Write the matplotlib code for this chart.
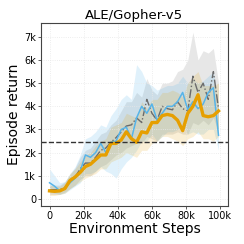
import numpy as np
import matplotlib.pyplot as plt
from matplotlib.ticker import FuncFormatter

# environment steps (k)
steps = [0, 3, 6, 9, 12, 15, 18, 21, 24, 27, 30, 33, 36, 39, 42, 45, 48,
         51, 54, 57, 60, 63, 66, 69, 72, 75, 78, 81, 84, 87, 90, 93, 96, 99]

# episode returns (k)
orange_mean = [0.35, 0.33, 0.35, 0.45, 0.8, 0.95, 1.15, 1.4, 1.5, 1.7, 1.9, 1.9,
               2.4, 2.4, 2.55, 2.9, 2.6, 2.45, 2.9, 2.85, 3.3, 3.3, 3.6, 3.65,
               3.6, 3.4, 2.95, 3.7, 4.0, 4.5, 3.6, 3.55, 3.6, 3.8]
orange_low = [0.15, 0.15, 0.2, 0.25, 0.45, 0.6, 0.75, 0.9, 1.0, 1.1, 1.3, 1.3,
              1.6, 1.7, 1.8, 2.0, 1.9, 1.8, 2.1, 2.1, 2.4, 2.5, 2.7, 2.7,
              2.6, 2.5, 2.3, 2.6, 2.7, 2.9, 2.6, 2.6, 2.5, 2.7]
orange_high = [0.6, 0.55, 0.55, 0.7, 1.1, 1.3, 1.6, 1.9, 2.0, 2.3, 2.5, 2.6,
               3.1, 3.2, 3.3, 3.7, 3.6, 3.5, 4.2, 3.9, 4.3, 4.3, 4.6, 4.6,
               4.7, 4.6, 4.4, 5.0, 5.3, 5.5, 4.9, 4.9, 4.9, 5.0]

blue_mean = [0.7, 0.55, 0.35, 0.45, 0.7, 0.9, 1.2, 1.9, 1.8, 2.0, 2.4, 2.0,
             2.45, 2.5, 3.0, 3.1, 2.6, 3.5, 4.0, 3.7, 4.1, 3.4, 3.7, 4.0,
             4.0, 4.2, 4.6, 3.85, 4.2, 3.9, 4.1, 4.6, 4.8, 2.75]
blue_low = [0.3, 0.25, 0.2, 0.25, 0.4, 0.55, 0.7, 1.1, 1.1, 1.2, 1.4, 1.2,
            1.1, 0.9, 1.3, 1.6, 1.8, 2.1, 2.5, 2.5, 2.8, 2.5, 2.7, 2.9,
            2.9, 3.0, 3.2, 2.8, 2.9, 2.8, 2.8, 3.0, 3.0, 2.1]
blue_high = [1.3, 1.0, 0.7, 0.75, 1.1, 1.4, 1.9, 2.6, 2.7, 2.9, 3.2, 3.1,
             3.6, 3.9, 4.3, 4.5, 4.3, 5.8, 5.5, 5.0, 4.9, 4.7, 4.8, 4.9,
             4.9, 5.0, 5.3, 5.0, 5.2, 5.0, 5.1, 5.3, 5.5, 4.0]

grey_mean = [0.4, 0.4, 0.4, 0.5, 0.75, 0.95, 1.3, 1.55, 1.55, 1.8, 2.1, 2.2,
             2.45, 2.65, 2.9, 3.15, 3.2, 3.5, 3.3, 4.3, 3.7, 3.4, 4.0, 3.9,
             3.85, 4.2, 3.9, 3.8, 5.3, 4.6, 5.0, 4.3, 5.5, 3.9]
grey_low = [0.2, 0.2, 0.2, 0.3, 0.45, 0.6, 0.85, 1.0, 1.0, 1.2, 1.4, 1.5,
            1.7, 1.9, 2.0, 2.2, 2.3, 2.4, 2.4, 2.7, 2.6, 2.5, 2.8, 2.8,
            2.8, 2.9, 2.8, 2.8, 3.3, 3.2, 3.4, 3.2, 3.5, 2.9]
grey_high = [0.6, 0.6, 0.6, 0.75, 1.05, 1.35, 1.8, 2.1, 2.2, 2.5, 2.8, 2.9,
             3.2, 3.4, 3.8, 4.2, 4.2, 4.6, 4.4, 5.2, 4.7, 4.5, 5.0, 5.0,
             5.1, 5.5, 5.6, 6.0, 7.2, 6.0, 6.4, 6.3, 6.5, 5.0]

baseline = 2.44

x = np.array(steps) * 1000
series = [
    (grey_mean, grey_low, grey_high, '#6b6b6b', '-.', 1.0, 0.16),
    (blue_mean, blue_low, blue_high, '#56B4E9', '-', 1.1, 0.18),
    (orange_mean, orange_low, orange_high, '#E69F00', '-', 2.4, 0.16),
]

fig = plt.figure(figsize=(2.44, 2.44), dpi=100)
ax = fig.add_axes([0.168, 0.156, 0.766, 0.75])

for mean, low, high, color, ls, lw, alpha in series:
    ax.fill_between(x, np.array(low) * 1000, np.array(high) * 1000,
                    color=color, alpha=alpha, linewidth=0)
for mean, low, high, color, ls, lw, alpha in series:
    ax.plot(x, np.array(mean) * 1000, color=color, linestyle=ls, linewidth=lw)

ax.axhline(baseline * 1000, color='#333333', linestyle='--', linewidth=1.0)

ax.set_xlim(-5000, 104500)
ax.set_ylim(-300, 7600)
ax.set_xticks([0, 20000, 40000, 60000, 80000, 100000])
ax.set_yticks(range(0, 8000, 1000))
fmt = FuncFormatter(lambda v, p: '0' if v == 0 else '%dk' % round(v / 1000))
ax.xaxis.set_major_formatter(fmt)
ax.yaxis.set_major_formatter(fmt)
ax.tick_params(labelsize=7, length=2, width=0.6, pad=1.5, color='#444444')
ax.grid(color='#e8e8e8', linewidth=0.6, linestyle=':')
for s in ax.spines.values():
    s.set_color('#444444')
    s.set_linewidth(0.8)

ax.set_title('ALE/Gopher-v5', fontsize=9.5, pad=3)
ax.set_xlabel('Environment Steps', fontsize=10, labelpad=1)
ax.set_ylabel('Episode return', fontsize=10, labelpad=2)

fig.savefig('out.png', dpi=100)
